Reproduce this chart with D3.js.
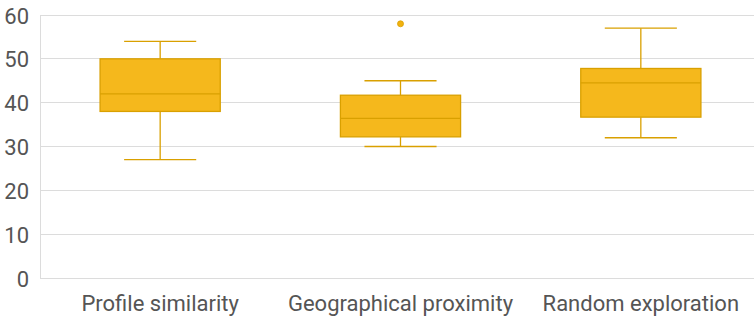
<!DOCTYPE html>
<html><head><meta charset="utf-8">
<script src="https://cdn.jsdelivr.net/npm/d3@7"></script>
<style>body{margin:0;background:#fff;} text{font-family:Roboto,"Noto Sans",sans-serif;}</style>
</head><body>
<svg id="c" width="754" height="320"></svg>
<script>
const categories = ["Profile similarity", "Geographical proximity", "Random exploration"];
const whiskerLow = [27, 30, 32];
const q1 = [38, 32.2, 36.7];
const median = [42, 36.4, 44.5];
const q3 = [50, 41.7, 47.8];
const whiskerHigh = [54, 45, 57];
const outliers = [[], [58], []];
const yTicks = [0, 10, 20, 30, 40, 50, 60];

const svg = d3.select("#c");
const W = 754, H = 320;
const x = d3.scaleBand().domain(categories).range([40, 761]).padding(0);
const y = d3.scaleLinear().domain([0, 60]).range([278, 15]);

// grid
svg.append("g").selectAll("line").data(yTicks).join("line")
  .attr("x1", 40).attr("x2", W).attr("y1", d => y(d)).attr("y2", d => y(d))
  .attr("stroke", "#dcdcdc").attr("stroke-width", 1).attr("shape-rendering", "crispEdges");
svg.append("line").attr("x1", 40).attr("x2", 40).attr("y1", y(60)).attr("y2", y(0))
  .attr("stroke", "#dcdcdc").attr("shape-rendering", "crispEdges");

// y labels
svg.append("g").selectAll("text").data(yTicks).join("text")
  .attr("x", 29).attr("y", d => y(d) + 8.5).attr("text-anchor", "end")
  .attr("font-size", 22).attr("fill", "#555").text(d => d);

// x labels
svg.append("g").selectAll("text").data(categories).join("text")
  .attr("x", d => x(d) + x.bandwidth() / 2).attr("y", 311)
  .attr("text-anchor", "middle").attr("font-size", 22).attr("fill", "#555").text(d => d);

const fill = "#F5B81C", stroke = "#D9A000";
const g = svg.append("g");
categories.forEach((c, i) => {
  const cx = x(c) + x.bandwidth() / 2;
  const bw = x.bandwidth() * 0.5;
  const cap = x.bandwidth() * 0.15;
  g.append("line").attr("x1", cx).attr("x2", cx).attr("y1", y(whiskerHigh[i])).attr("y2", y(q3[i])).attr("stroke", stroke).attr("stroke-width", 1.3);
  g.append("line").attr("x1", cx).attr("x2", cx).attr("y1", y(q1[i])).attr("y2", y(whiskerLow[i])).attr("stroke", stroke).attr("stroke-width", 1.3);
  g.append("line").attr("x1", cx - cap).attr("x2", cx + cap).attr("y1", y(whiskerHigh[i])).attr("y2", y(whiskerHigh[i])).attr("stroke", stroke).attr("stroke-width", 1.3);
  g.append("line").attr("x1", cx - cap).attr("x2", cx + cap).attr("y1", y(whiskerLow[i])).attr("y2", y(whiskerLow[i])).attr("stroke", stroke).attr("stroke-width", 1.3);
  g.append("rect").attr("x", cx - bw / 2).attr("width", bw).attr("y", y(q3[i])).attr("height", y(q1[i]) - y(q3[i]))
    .attr("fill", fill).attr("stroke", stroke).attr("stroke-width", 1.3);
  g.append("line").attr("x1", cx - bw / 2).attr("x2", cx + bw / 2).attr("y1", y(median[i])).attr("y2", y(median[i])).attr("stroke", stroke).attr("stroke-width", 1.3);
  outliers[i].forEach(o => {
    g.append("circle").attr("cx", cx).attr("cy", y(o)).attr("r", 3).attr("fill", "#F2B20F").attr("stroke", stroke).attr("stroke-width", 0.8);
  });
});
</script>
</body></html>
